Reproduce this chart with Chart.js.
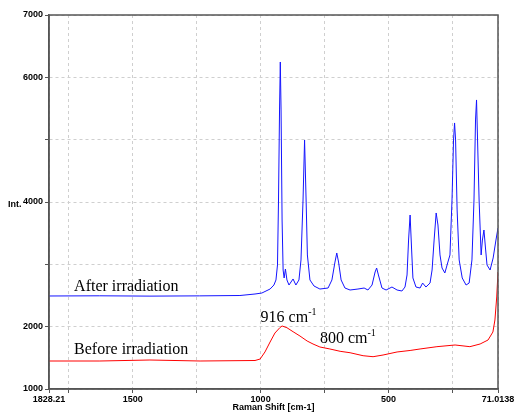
<!DOCTYPE html>
<html>
<head>
<meta charset="utf-8">
<script src="https://cdn.jsdelivr.net/npm/chart.js@4.4.0/dist/chart.umd.min.js"></script>
<style>
  html, body { margin: 0; padding: 0; background: #fff; }
  #wrap { width: 514px; height: 414px; position: relative; }
</style>
</head>
<body>
<div id="wrap"><canvas id="myChart"></canvas></div>
<script>
// Raman shift (cm-1) and intensity
var afterShift = [1828.2, 1630, 1433, 1240, 1081, 1022, 995, 963, 948, 940, 934, 930, 926, 923, 920, 916, 912, 908, 903, 897,
    889, 873, 862, 850, 842, 834, 828, 822, 817, 807, 791, 768, 736, 721, 709, 702, 695, 685, 670, 650,
    619, 595, 580, 564, 552, 546, 539, 525, 509, 486, 466, 447, 435, 427, 421, 415, 409, 404, 392, 376,
    366, 353, 337, 329, 321, 313, 306, 298, 290, 279, 267, 259, 251, 245, 241, 237, 231, 223, 211, 196,
    184, 173, 165, 159, 155, 151, 145, 137, 132, 126, 120, 114, 102, 90, 79, 71.0138];
var afterIntensity = [2492, 2495, 2490, 2494, 2500, 2524, 2540, 2604, 2668, 2749, 2990, 4032, 5476, 6246, 5476, 3711, 2909, 2781, 2925, 2749,
    2668, 2765, 2668, 2749, 3070, 4032, 4995, 4032, 3150, 2749, 2652, 2604, 2620, 2749, 3037, 3182, 3037, 2749, 2620, 2588,
    2604, 2620, 2588, 2668, 2877, 2941, 2829, 2620, 2588, 2636, 2588, 2572, 2636, 2829, 3390, 3791, 3230, 2781, 2636, 2620,
    2700, 2636, 2700, 2909, 3390, 3824, 3631, 3150, 2941, 2861, 3037, 3150, 4032, 4995, 5268, 4995, 3872, 3070, 2781, 2668,
    2700, 3070, 4032, 5316, 5637, 4995, 4032, 3150, 3390, 3551, 3262, 2989, 2909, 3102, 3390, 3583];

var beforeShift = [1828.2, 1629, 1433, 1237, 1022, 1002, 983, 963, 944, 924, 916, 897, 873, 846, 818, 795, 768, 729, 689, 650,
    599, 560, 521, 466, 415, 376, 310, 239, 181, 141, 110, 91, 83, 76, 71.0138];
var beforeIntensity = [1449, 1449, 1465, 1449, 1457, 1481, 1594, 1754, 1898, 1987, 2011, 1983, 1919, 1850, 1770, 1722, 1674, 1642, 1605, 1582,
    1534, 1518, 1545, 1594, 1618, 1642, 1679, 1706, 1679, 1722, 1786, 1914, 2107, 2476, 2877];

var xTickValues = [1828.21, 1750, 1500, 1250, 1000, 750, 500, 250, 71.0138];
var xTickLabels = ['1828.21', '', '1500', '', '1000', '', '500', '', '71.0138'];
var yTickLabels = ['1000', '2000', '', '4000', '', '6000', '7000'];

function toPoints(xs, ys) {
    return xs.map(function (x, i) { return { x: x, y: ys[i] }; });
}

var frameAndText = {
    id: 'frameAndText',
    afterDraw: function (chart) {
        var ctx = chart.ctx;
        var a = chart.chartArea;
        var xs = chart.scales.x, ys = chart.scales.y;
        ctx.save();
        ctx.strokeStyle = '#555';
        ctx.lineWidth = 1.5;
        ctx.strokeRect(a.left, a.top, a.right - a.left, a.bottom - a.top);

        ctx.fillStyle = '#000';
        ctx.textBaseline = 'alphabetic';
        ctx.textAlign = 'left';
        ctx.font = '16px "Liberation Serif", "Times New Roman", serif';
        ctx.fillText('After irradiation', xs.getPixelForValue(1730), ys.getPixelForValue(2572));
        ctx.fillText('Before irradiation', xs.getPixelForValue(1730), ys.getPixelForValue(1561));

        function withSup(txt, sup, wx, wy) {
            var px = xs.getPixelForValue(wx), py = ys.getPixelForValue(wy);
            ctx.font = '16px "Liberation Serif", "Times New Roman", serif';
            ctx.fillText(txt, px, py);
            var w = ctx.measureText(txt).width;
            ctx.font = '10px "Liberation Serif", "Times New Roman", serif';
            ctx.fillText(sup, px + w, py - 7);
        }
        withSup('916 cm', '-1', 1000, 2079);
        withSup('800 cm', '-1', 768, 1733);

        ctx.font = 'bold 9px "Liberation Sans", Arial, sans-serif';
        ctx.textAlign = 'center';
        ctx.textBaseline = 'middle';
        ctx.fillText('Raman Shift [cm-1]', (a.left + a.right) / 2, 408);
        ctx.textAlign = 'left';
        ctx.fillText('Int.', 8, ys.getPixelForValue(4000) + 3);
        ctx.restore();
    }
};

var ctx = document.getElementById('myChart');

var myChart = new Chart(ctx, {
    type: 'line',
    data: {
        datasets: [{
            label: 'After irradiation',
            data: toPoints(afterShift, afterIntensity),
            borderColor: 'rgb(20, 20, 255)',
            borderWidth: 1,
            pointRadius: 0,
            tension: 0
        }, {
            label: 'Before irradiation',
            data: toPoints(beforeShift, beforeIntensity),
            borderColor: 'rgb(255, 0, 0)',
            borderWidth: 1,
            pointRadius: 0,
            tension: 0
        }]
    },
    options: {
        responsive: true,
        maintainAspectRatio: false,
        animation: false,
        devicePixelRatio: 1,
        layout: { padding: { left: 0, top: 15, right: 16, bottom: 0 } },
        plugins: { legend: { display: false }, tooltip: { enabled: false } },
        scales: {
            x: {
                type: 'linear',
                reverse: true,
                min: 71.0138,
                max: 1828.21,
                afterBuildTicks: function (scale) {
                    scale.ticks = xTickValues.map(function (v) { return { value: v }; });
                },
                afterFit: function (scale) {
                    scale.height = 25;
                    scale.paddingLeft = 0;
                    scale.paddingRight = 0;
                },
                grid: { color: '#cfcfcf', tickColor: '#555', tickLength: 4 },
                border: { color: '#555', width: 1.5, dash: [3, 3] },
                ticks: {
                    autoSkip: false,
                    maxRotation: 0,
                    padding: 1,
                    color: '#000',
                    font: { family: '"Liberation Sans", Arial, sans-serif', weight: 'bold', size: 9 },
                    callback: function (value, index) { return xTickLabels[index]; }
                }
            },
            y: {
                min: 1000,
                max: 7000,
                afterFit: function (scale) { scale.width = 49; },
                grid: { color: '#cfcfcf', tickColor: '#555', tickLength: 4 },
                border: { color: '#555', width: 1.5, dash: [3, 3] },
                ticks: {
                    stepSize: 1000,
                    padding: 2,
                    color: '#000',
                    font: { family: '"Liberation Sans", Arial, sans-serif', weight: 'bold', size: 9 },
                    callback: function (value, index) { return yTickLabels[index]; }
                }
            }
        }
    },
    plugins: [frameAndText]
});
</script>
</body>
</html>
